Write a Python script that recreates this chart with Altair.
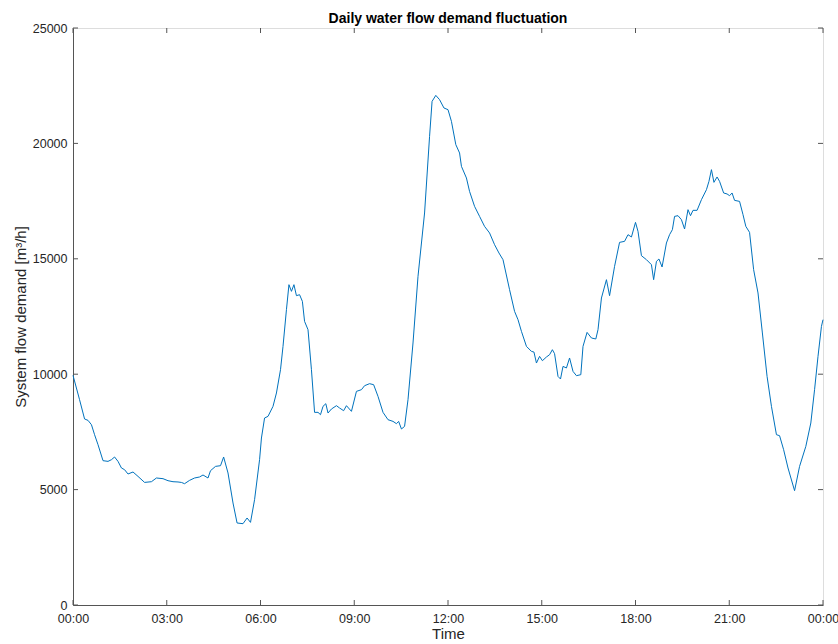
import altair as alt
import pandas as pd

# time of day in hours (0-24) and system flow demand in m3/h
hours = [0.00, 0.21, 0.37, 0.48, 0.59, 0.69, 0.80, 0.96, 1.12, 1.23, 1.33, 1.44, 1.55, 1.65,
         1.76, 1.92, 2.08, 2.29, 2.51, 2.67, 2.88, 3.04, 3.20, 3.36, 3.47, 3.57, 3.73, 3.89,
         4.05, 4.16, 4.32, 4.40, 4.56, 4.72, 4.82, 4.96, 5.12, 5.25, 5.44, 5.57, 5.68, 5.81,
         5.97, 6.03, 6.13, 6.24, 6.40, 6.51, 6.64, 6.72, 6.83, 6.91, 6.99, 7.07, 7.15, 7.25,
         7.34, 7.41, 7.52, 7.63, 7.73, 7.84, 7.92, 8.00, 8.09, 8.16, 8.27, 8.43, 8.53, 8.66,
         8.75, 8.91, 9.07, 9.23, 9.33, 9.49, 9.62, 9.76, 9.92, 10.08, 10.24, 10.35, 10.42,
         10.51, 10.61, 10.72, 10.88, 11.04, 11.25, 11.41, 11.49, 11.61, 11.73, 11.87, 12.00,
         12.11, 12.25, 12.37, 12.43, 12.59, 12.69, 12.85, 13.01, 13.17, 13.33, 13.49, 13.63,
         13.76, 13.97, 14.13, 14.24, 14.35, 14.51, 14.67, 14.75, 14.83, 14.93, 15.02, 15.15,
         15.25, 15.34, 15.41, 15.52, 15.60, 15.68, 15.79, 15.89, 16.00, 16.11, 16.25, 16.32,
         16.45, 16.59, 16.73, 16.80, 16.91, 17.07, 17.17, 17.33, 17.49, 17.65, 17.76, 17.87,
         18.00, 18.08, 18.19, 18.35, 18.51, 18.58, 18.67, 18.75, 18.85, 18.99, 19.09, 19.18,
         19.25, 19.36, 19.47, 19.57, 19.68, 19.76, 19.84, 19.97, 20.11, 20.27, 20.35, 20.43,
         20.51, 20.61, 20.69, 20.82, 20.93, 21.01, 21.09, 21.17, 21.33, 21.44, 21.53, 21.65,
         21.78, 21.92, 22.06, 22.21, 22.35, 22.51, 22.61, 22.74, 22.88, 23.09, 23.25, 23.45,
         23.61, 23.73, 23.84, 23.95, 24.00]

flow = [9950, 8896, 8060, 8000, 7812, 7379, 6946, 6253, 6223, 6296, 6413, 6223, 5936, 5863,
        5676, 5763, 5572, 5312, 5342, 5503, 5473, 5386, 5342, 5330, 5310, 5256, 5400, 5503,
        5546, 5633, 5503, 5819, 6006, 6036, 6413, 5720, 4420, 3553, 3523, 3770, 3580, 4563,
        6296, 7236, 8102, 8174, 8607, 9186, 10195, 11205, 12796, 13879, 13590, 13879, 13402, 13445,
        13156, 12289, 11929, 10195, 8347, 8347, 8246, 8607, 8722, 8318, 8492, 8636, 8535, 8419,
        8636, 8390, 9256, 9329, 9502, 9589, 9546, 9039, 8347, 8029, 7956, 7856, 7956,
        7626, 7739, 8896, 11352, 14238, 16985, 20305, 21821, 22081, 21895, 21535, 21462,
        20955, 19945, 19585, 19005, 18502, 17921, 17271, 16838, 16405, 16119, 15612, 15252,
        14962, 13662, 12722, 12362, 11855, 11205, 10989, 10960, 10484, 10772, 10585, 10745,
        10845, 11062, 10889, 9905, 9792, 10339, 10269, 10702, 10122, 9936, 9979, 11205,
        11812, 11569, 11526, 11929, 13302, 14095, 13402, 14672, 15712, 15756, 16045, 15945,
        16578, 16188, 15135, 14962, 14745, 14095, 14889, 14992, 14646, 15685, 16045, 16262,
        16838, 16868, 16695, 16292, 17128, 16868, 17100, 17100, 17562, 17995, 18355, 18862,
        18312, 18545, 18355, 17852, 17809, 17735, 17852, 17532, 17488, 16912, 16405, 16145,
        14529, 13519, 11786, 9905, 8607, 7379, 7336, 6729, 5936, 4953, 6006, 6872,
        7886, 9329, 10772, 12072, 12362]

x_ticks = [0, 3, 6, 9, 12, 15, 18, 21, 24]
y_ticks = [0, 5000, 10000, 15000, 20000, 25000]

W, H = 750, 577

df = pd.DataFrame({"hour": hours, "flow": flow})
xt = pd.DataFrame({"hour": x_ticks})
yt = pd.DataFrame({"flow": y_ticks})

FONT = "Liberation Sans"
LINE = "#0072BD"
AX = "#262626"
TICK = "#555555"
XT = "Time"
YT = "System flow demand [m³/h]"

xscale = alt.Scale(domain=[0, 24], nice=False, zero=False)
yscale = alt.Scale(domain=[0, 25000], nice=False)

label_expr = "format(datum.value % 24, '02d') + ':00'"

main = alt.Chart(df).mark_line(color=LINE, strokeWidth=1).encode(
    x=alt.X("hour:Q", scale=xscale, title=XT,
            axis=alt.Axis(orient="bottom", values=x_ticks, labelExpr=label_expr,
                          ticks=False, grid=False, domainColor=TICK,
                          labelPadding=7, titlePadding=2, labelFont=FONT, titleFont=FONT,
                          labelFontSize=12.5, titleFontSize=15, titleFontWeight="normal",
                          labelColor=AX, titleColor=AX, labelFlush=False)),
    y=alt.Y("flow:Q", scale=yscale, title=YT,
            axis=alt.Axis(orient="left", values=y_ticks, format="d",
                          ticks=False, grid=False, domainColor=TICK, labelPadding=6,
                          titlePadding=4, labelFont=FONT, titleFont=FONT,
                          labelFontSize=12.5, titleFontSize=15, titleFontWeight="normal",
                          labelColor=AX, titleColor=AX, labelFlush=False)),
)

# inward tick marks on all four sides of the box
xb = alt.Chart(xt).mark_rule(color=TICK, strokeWidth=1).encode(
    x=alt.X("hour:Q", scale=xscale, title=XT), y=alt.value(H), y2=alt.value(H - 5))
xtp = alt.Chart(xt).mark_rule(color=TICK, strokeWidth=1).encode(
    x=alt.X("hour:Q", scale=xscale, title=XT), y=alt.value(0), y2=alt.value(5))
yl = alt.Chart(yt).mark_rule(color=TICK, strokeWidth=1).encode(
    y=alt.Y("flow:Q", scale=yscale, title=YT), x=alt.value(0), x2=alt.value(5))
yr = alt.Chart(yt).mark_rule(color=TICK, strokeWidth=1).encode(
    y=alt.Y("flow:Q", scale=yscale, title=YT), x=alt.value(W), x2=alt.value(W - 5))

chart = alt.layer(main, xb, xtp, yl, yr).properties(
    width=W, height=H,
    title=alt.TitleParams("Daily water flow demand fluctuation", font=FONT, fontSize=14,
                          fontWeight="bold", color="#000000", offset=-4, anchor="middle"),
    autosize=alt.AutoSizeParams(type="none"),
    padding={"left": 73, "top": 28, "right": 15, "bottom": 39},
).configure_view(stroke="#9a9a9a", strokeWidth=1).configure(background="white")

chart.save("out.html", embed_options={"renderer": "svg", "actions": False})
